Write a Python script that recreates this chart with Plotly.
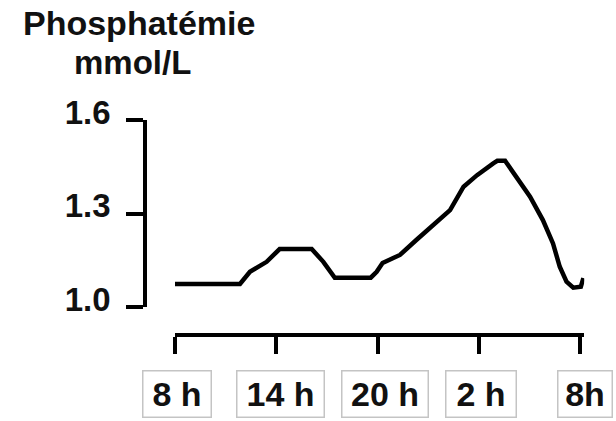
import plotly.graph_objects as go

# Data (hours after 8 h, phosphatemia mmol/L)
hours = [0, 3.85, 4.44, 5.43, 6.2, 8.1, 8.79, 9.47, 11.6, 11.95, 12.3, 13.33, 14.3,
         15.3, 16.3, 17.1, 17.9, 18.86, 19.1, 19.56, 20.25, 21.04, 21.8, 22.4, 22.8,
         23.2, 23.6, 24.05, 24.2]
phos = [1.074, 1.074, 1.113, 1.145, 1.186, 1.186, 1.145, 1.094, 1.094, 1.113, 1.141,
        1.167, 1.215, 1.263, 1.311, 1.386, 1.423, 1.461, 1.469, 1.469, 1.418, 1.354,
        1.279, 1.204, 1.129, 1.081, 1.062, 1.065, 1.093]

x_ticks = [0, 6, 12, 18, 24]
x_labels = ["8 h", "14 h", "20 h", "2 h", "8h"]
y_ticks = [1.0, 1.3, 1.6]
y_labels = ["1.0", "1.3", "1.6"]
title_lines = ["Phosphatémie", "mmol/L"]

W, H = 616, 421
FONT = "Liberation Sans, Arial, sans-serif"

fig = go.Figure()
fig.add_trace(go.Scatter(x=hours, y=phos, mode="lines",
                         line=dict(color="black", width=4.5), hoverinfo="skip"))

x0_px, x24_px = 175, 580
pph = (x24_px - x0_px) / 24
xmax = 24.25
fig.update_layout(
    width=W, height=H,
    margin=dict(l=0, r=0, t=0, b=0, pad=0),
    paper_bgcolor="white", plot_bgcolor="white",
    showlegend=False,
    xaxis=dict(
        domain=[x0_px / W, (x0_px + xmax * pph) / W],
        range=[0, xmax],
        anchor="free", position=1 - 335 / H,
        showgrid=False, zeroline=False,
        showline=True, linecolor="black", linewidth=3.5,
        tickmode="array", tickvals=x_ticks, ticks="outside",
        ticklen=17, tickwidth=3.5, tickcolor="black",
        showticklabels=False, automargin=False,
    ),
    yaxis=dict(
        domain=[1 - 307 / H, 1 - 120 / H],
        range=[1.0, 1.6],
        anchor="free", position=145 / W,
        showgrid=False, zeroline=False,
        showline=True, linecolor="black", linewidth=3.5,
        tickmode="array", tickvals=y_ticks,
        ticktext=["<b>" + t + "</b>" for t in y_labels], ticks="outside",
        ticklen=17, tickwidth=3.5, tickcolor="black",
        tickfont=dict(family=FONT, size=33, color="#111"),
        ticklabelstandoff=9, ticklabelshift=-8,
        automargin=False,
    ),
)

# boxed x labels
box_w = [69, 88, 87, 71, 55]
box_shift = [2, 4, 7, 2, 5]
for xv, lab, bw, sh in zip(x_ticks, x_labels, box_w, box_shift):
    fig.add_annotation(
        x=xv, xref="x", y=1 - 393.5 / H, yref="paper",
        text="<b>" + lab + "</b>", showarrow=False,
        xanchor="center", yanchor="middle", xshift=sh,
        font=dict(family=FONT, size=34, color="#111"),
        width=bw - 4, height=43, borderpad=1,
        bordercolor="#c4c4c4", borderwidth=1.5, bgcolor="white",
    )

# title
fig.add_annotation(x=139 / W, xref="paper", y=1 - 23 / H, yref="paper",
                   text="<b>" + title_lines[0] + "</b>", showarrow=False,
                   xanchor="center", yanchor="middle",
                   font=dict(family=FONT, size=34, color="#111"))
fig.add_annotation(x=132 / W, xref="paper", y=1 - 62 / H, yref="paper",
                   text="<b>" + title_lines[1] + "</b>", showarrow=False,
                   xanchor="center", yanchor="middle",
                   font=dict(family=FONT, size=33, color="#111"))

fig.write_html("out.html")
